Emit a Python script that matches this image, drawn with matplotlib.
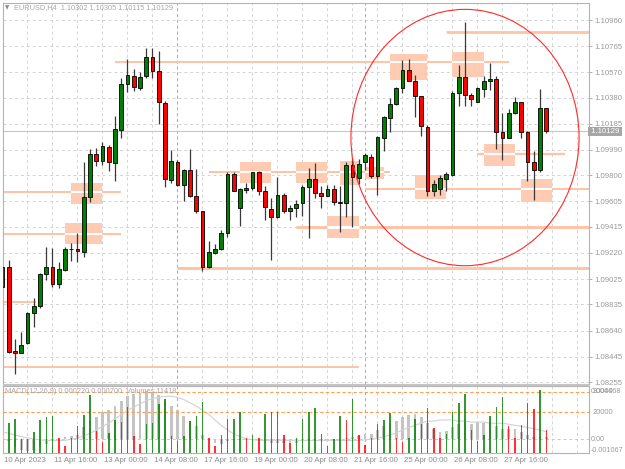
import matplotlib
matplotlib.use("Agg")
import matplotlib.pyplot as plt
import matplotlib.transforms as mtransforms
from matplotlib.patches import Ellipse, Rectangle
import numpy as np

W, H = 625, 469
FONT = ["Liberation Sans", "DejaVu Sans"]
plt.rcParams["font.family"] = FONT

# ---------------- data (H4 bars, index 2 = 10 Apr 2023 08:00) ----------------
first_bar = 2
opens = [1.08966, 1.09115, 1.08487, 1.08476, 1.08547, 1.08771, 1.08824, 1.09063, 1.09115, 1.08988,
         1.09089, 1.09246, 1.09249, 1.09227, 1.09638, 1.09959, 1.09907, 1.10011, 1.09892, 1.10138,
         1.10482, 1.10542, 1.10452, 1.10542, 1.10684, 1.10579, 1.10340, 1.09765, 1.09899, 1.09724,
         1.09843, 1.09645, 1.09533, 1.09115, 1.09220, 1.09249, 1.09369, 1.09806, 1.09556, 1.09690,
         1.09705, 1.09825, 1.09683, 1.09548, 1.09492, 1.09653, 1.09530, 1.09559, 1.09593, 1.09713,
         1.09772, 1.09664, 1.09649, 1.09701, 1.09604, 1.09593, 1.09877, 1.09780, 1.09899, 1.09937,
         1.09795, 1.10082, 1.10228, 1.10333, 1.10452, 1.10583, 1.10508, 1.10389, 1.10164, 1.09679,
         1.09698, 1.09772, 1.09802, 1.10415, 1.10534, 1.10400, 1.10351, 1.10445, 1.10501, 1.10519,
         1.10120, 1.10082, 1.10265, 1.10344, 1.10127, 1.09903, 1.09836, 1.10302]
highs = [1.09167, 1.09167, 1.08577, 1.08629, 1.08779, 1.08883, 1.09070, 1.09264, 1.09257, 1.09152,
         1.09264, 1.09294, 1.09369, 1.09899, 1.09996, 1.10004, 1.10049, 1.10026, 1.10243, 1.10527,
         1.10669, 1.10594, 1.10572, 1.10751, 1.10751, 1.10728, 1.10355, 1.09989, 1.09914, 1.09847,
         1.09996, 1.09847, 1.09533, 1.09309, 1.09287, 1.09391, 1.09825, 1.09825, 1.09705, 1.09742,
         1.09828, 1.09832, 1.09720, 1.09630, 1.09787, 1.09668, 1.09578, 1.09615, 1.09727, 1.09854,
         1.09892, 1.09720, 1.09727, 1.09727, 1.09720, 1.09899, 1.09929, 1.09922, 1.09967, 1.09959,
         1.10090, 1.10243, 1.10377, 1.10460, 1.10661, 1.10669, 1.10549, 1.10392, 1.10176, 1.09765,
         1.09802, 1.09821, 1.10433, 1.10624, 1.10945, 1.10415, 1.10463, 1.10545, 1.10639, 1.10542,
         1.10265, 1.10295, 1.10385, 1.10347, 1.10131, 1.09978, 1.10445, 1.10305]
lows = [1.08906, 1.08473, 1.08316, 1.08473, 1.08540, 1.08667, 1.08809, 1.09018, 1.08966, 1.08958,
        1.09085, 1.09160, 1.09152, 1.09190, 1.09600, 1.09869, 1.09877, 1.09832, 1.09757, 1.10079,
        1.10422, 1.10430, 1.10437, 1.10527, 1.10527, 1.10183, 1.09713, 1.09742, 1.09720, 1.09608,
        1.09638, 1.09518, 1.09085, 1.09107, 1.09212, 1.09242, 1.09339, 1.09680, 1.09421, 1.09668,
        1.09690, 1.09653, 1.09466, 1.09167, 1.09481, 1.09518, 1.09466, 1.09488, 1.09496, 1.09332,
        1.09630, 1.09556, 1.09645, 1.09578, 1.09373, 1.09488, 1.09414, 1.09735, 1.09840, 1.09780,
        1.09653, 1.09985, 1.10127, 1.10325, 1.10418, 1.10501, 1.10239, 1.10090, 1.09645, 1.09642,
        1.09653, 1.09679, 1.09795, 1.10314, 1.10314, 1.10314, 1.10347, 1.10385, 1.10437, 1.09996,
        1.09914, 1.10079, 1.10258, 1.10079, 1.09761, 1.09615, 1.09825, 1.10115]
closes = [1.09115, 1.08480, 1.08473, 1.08532, 1.08771, 1.08824, 1.09063, 1.09115, 1.08988, 1.09100,
          1.09249, 1.09253, 1.09234, 1.09638, 1.09959, 1.09907, 1.10019, 1.09899, 1.10146, 1.10482,
          1.10549, 1.10460, 1.10534, 1.10684, 1.10579, 1.10348, 1.09772, 1.09907, 1.09727, 1.09843,
          1.09642, 1.09530, 1.09115, 1.09227, 1.09249, 1.09369, 1.09810, 1.09683, 1.09698, 1.09705,
          1.09825, 1.09683, 1.09563, 1.09492, 1.09653, 1.09533, 1.09559, 1.09589, 1.09709, 1.09772,
          1.09668, 1.09649, 1.09694, 1.09604, 1.09593, 1.09877, 1.09787, 1.09884, 1.09952, 1.09798,
          1.10086, 1.10232, 1.10333, 1.10452, 1.10587, 1.10508, 1.10392, 1.10168, 1.09679, 1.09735,
          1.09780, 1.09806, 1.10415, 1.10534, 1.10400, 1.10370, 1.10452, 1.10504, 1.10523, 1.10120,
          1.10082, 1.10269, 1.10344, 1.10127, 1.09903, 1.09840, 1.10300, 1.10129]

volumes = [8500, 14800, 16600, 6900, 6700, 10100, 16300, 17600, 17900, 7400,
           3600, 7400, 13300, 18700, 28400, 10900, 5400, 9800, 16300, 15000,
           22400, 8500, 4600, 14300, 14500, 24000, 26500, 8500, 5700, 8500,
           15500, 17900, 24800, 7400, 3300, 9000, 16600, 16800, 20000, 7400,
           9000, 7400, 19200, 20000, 20300, 9000, 4900, 7400, 16600, 20000,
           22200, 9500, 3600, 6900, 17900, 16300, 26300, 9000, 4100, 7400,
           14300, 16300, 19500, 7400, 5300, 7400, 16600, 14300, 21900, 12200,
           7400, 9500, 20300, 24700, 28900, 11400, 5700, 9000, 17900, 22400,
           27300, 13000, 7400, 13800, 24400, 21400, 30800, 11418]

macd_main = [0.0004, -0.0002, -0.0007, -0.0010, -0.00107, -0.0010, -0.0007, -0.0004, -0.0002, 0.0000,
             0.0002, 0.0003, 0.0004, 0.0011, 0.0017, 0.0021, 0.0025, 0.0027, 0.0031, 0.0036,
             0.0040, 0.0042, 0.0043, 0.00447, 0.0044, 0.0041, 0.0036, 0.0031, 0.0027, 0.0022,
             0.0017, 0.0012, 0.0004, -0.0001, -0.0003, -0.0004, -0.0002, -0.0001, -0.0001, -0.0001,
             0.0000, -0.0001, -0.0002, -0.0003, -0.0003, -0.0003, -0.0003, -0.0003, -0.0002, -0.0001,
             -0.0001, -0.0002, -0.0002, -0.0002, -0.0002, 0.0001, 0.00025, 0.0003, 0.0005, 0.0005,
             0.0009, 0.0012, 0.0015, 0.0017, 0.0021, 0.0023, 0.0024, 0.0021, 0.0015, 0.0010,
             0.0007, 0.0008, 0.0011, 0.0014, 0.0016, 0.0014, 0.0016, 0.0015, 0.0016, 0.0012,
             0.0010, 0.0010, 0.0010, 0.0007, 0.0004, 0.0002, 0.00025, 0.00022]
macd_signal = [0.0007, 0.00056, 0.0004, 0.00025, 0.00012, 0.00003, -0.00006, -0.0001, -0.00012, -0.00012,
               -0.0001, 0.0, 0.00012, 0.0003, 0.00056, 0.00087, 0.0012, 0.0015, 0.0019, 0.0023,
               0.0027, 0.0030, 0.0033, 0.0036, 0.0038, 0.0039, 0.0040, 0.0040, 0.0039, 0.0037,
               0.0034, 0.0031, 0.0027, 0.0023, 0.0018, 0.0013, 0.00087, 0.0005, 0.00025, 0.00006,
               -0.00003, -0.0001, -0.0001, -0.0001, -0.0001, -0.0001, -0.0001, -0.0001, -0.00012, -0.00012,
               -0.00012, -0.00012, -0.00012, -0.00012, -0.00012, -0.00012, -0.00012, -0.0001, -0.00006, 0.0,
               0.0001, 0.00025, 0.0004, 0.0006, 0.00087, 0.0011, 0.0013, 0.0015, 0.0017, 0.0017,
               0.0018, 0.0018, 0.0018, 0.0017, 0.0017, 0.0016, 0.0016, 0.0016, 0.0015, 0.0015,
               0.0015, 0.0014, 0.0013, 0.0012, 0.0011, 0.0010, 0.00085, 0.0007]

price_ticks = [1.10960, 1.10765, 1.10570, 1.10380, 1.10185, 1.09990, 1.09800, 1.09605,
               1.09415, 1.09220, 1.09025, 1.08835, 1.08640, 1.08445, 1.08255]
date_tick_bars = [2, 10, 18, 26, 34, 42, 50, 58, 66, 74, 82]
date_labels = ["10 Apr 2023", "11 Apr 16:00", "13 Apr 00:00", "14 Apr 08:00", "17 Apr 16:00",
               "19 Apr 00:00", "20 Apr 08:00", "21 Apr 16:00", "25 Apr 00:00", "26 Apr 08:00",
               "27 Apr 16:00"]
week_start_bars = [30, 60]

# supply / demand zones
zone_from = [13, 12, 40, 49, 56, 60, 54, 64, 74, 68, 79, 85]
zone_to = [18, 18, 45, 54, 59, 63, 59, 70, 79, 73, 84, 90]
zone_low = [1.09583, 1.09287, 1.09740, 1.09740, 1.09727, 1.09770, 1.09329, 1.10510, 1.10536,
            1.09621, 1.09869, 1.09597]
zone_high = [1.09740, 1.09446, 1.09897, 1.09897, 1.09907, 1.09864, 1.09496, 1.10704, 1.10723,
             1.09802, 1.10032, 1.09772]

# horizontal levels (None = ray to the right)
level_from = [20, 73, 0, 0, 0, 0, 30, 35, 49, 60, 78]
level_to = [83, None, 21, 21, 7.3, 59, None, 64, None, None, 92]
level_price = [1.10643, 1.10873, 1.09673, 1.09359, 1.08856, 1.08366, 1.09107, 1.09827,
               1.09412, 1.09698, 1.09959]
level_px = [2.0, 2.8, 2.0, 2.0, 2.0, 2.0, 3.0, 2.0, 3.0, 2.0, 2.2]   # line widths (px)

ellipse_center_bar = 76.0
ellipse_center_price = 1.10082
ellipse_width_bars = 36.5
ellipse_height_price = 0.01915

header_text = "EURUSD,H4  1.10302 1.10305 1.10115 1.10129"
sub_header_text = "MACD(12,26,9) 0.000220 0.000700  Volumes 11418"
last_price_label = "1.10129"
sub_labels_vol = [30000, 20000]
sub_labels_macd = [0.004468, 0.0, -0.001067]
sub_label_macd_text = ["0.004468", "0.00", "-0.001067"]

# ---------------- style ----------------
ZONE_C = "#FFCBB2"
LEVEL_C = "#FFC3A6"
GRID_C = "#D4D4D4"
TXT_C = "#9A9A9A"
UP_C = "#008000"
DN_C = "#FF0000"
PX = 72.0 / 100.0     # points per pixel at dpi 100

bars = np.arange(first_bar, first_bar + len(opens))
for arr in (highs, lows, closes, volumes, macd_main, macd_signal):
    assert len(arr) == len(opens)

XMIN, XMAX = (3 + 10) / 6.25, (589 + 10) / 6.25
YMIN, YMAX = 1.08241, 1.11087

fig = plt.figure(figsize=(W / 100, H / 100), dpi=100)
fig.patch.set_facecolor("white")


def frac(x0, y0, x1, y1):
    return [x0 / W, 1 - y1 / H, (x1 - x0) / W, (y1 - y0) / H]


ax = fig.add_axes(frac(3, 3, 589, 384))
axs = fig.add_axes(frac(3, 386, 589, 453))

for a in (ax, axs):
    a.set_xlim(XMIN, XMAX)
    a.set_facecolor("white")
    for s in a.spines.values():
        s.set_color("#B4B4B4")
        s.set_linewidth(0.8)
    a.set_xticks([])

ax.set_ylim(YMIN, YMAX)

# grid
grid_bars = np.arange(2, 96, 4)
for b in grid_bars:
    for a in (ax, axs):
        a.axvline(b, color=GRID_C, lw=0.7, ls=(0, (3, 3)), zorder=0)
for p in price_ticks:
    ax.axhline(p, color=GRID_C, lw=0.7, ls=(0, (3, 3)), zorder=0)
for b in week_start_bars:
    for a in (ax, axs):
        a.axvline(b, color="#A8A8A8", lw=0.7, ls=(0, (3, 3)), zorder=0.5)

# zones
for x0, x1, lo, hi in zip(zone_from, zone_to, zone_low, zone_high):
    ax.add_patch(Rectangle((x0, lo), x1 - x0, hi - lo, facecolor=ZONE_C, edgecolor="none", zorder=1))

# levels (with XOR-like white where they cross a zone)
for x0, x1, p, w in zip(level_from, level_to, level_price, level_px):
    xe = XMAX + 5 if x1 is None else x1
    ax.plot([x0, xe], [p, p], color=LEVEL_C, lw=w * PX, solid_capstyle="butt", zorder=1.2)
    for zx0, zx1, lo, hi in zip(zone_from, zone_to, zone_low, zone_high):
        if lo <= p <= hi:
            a0, a1 = max(x0, zx0), min(xe, zx1)
            if a1 > a0:
                ax.plot([a0, a1], [p, p], color="white", lw=w * PX, solid_capstyle="butt", zorder=1.3)

# bid line
ax.axhline(closes[-1], color="#C8C8C8", lw=0.8, zorder=1.1)

# candles
for b, o, h, l, c in zip(bars, opens, highs, lows, closes):
    ax.plot([b, b], [l, h], color="#3A3A3A", lw=0.9, zorder=2, solid_capstyle="butt")
    col = UP_C if c >= o else DN_C
    lo_, hi_ = min(o, c), max(o, c)
    hgt = max(hi_ - lo_, 0.00002)
    ax.add_patch(Rectangle((b - 0.31, lo_), 0.62, hgt, facecolor=col, edgecolor="black",
                           lw=0.6, zorder=3))

# ellipse
ax.add_patch(Ellipse((ellipse_center_bar, ellipse_center_price), ellipse_width_bars,
                     ellipse_height_price, fill=False, edgecolor="#FF2A2A", lw=0.8, zorder=4))

# right price axis
ax.yaxis.tick_right()
ax.set_yticks(price_ticks)
ax.set_yticklabels([f"{p:.5f}" for p in price_ticks])
ax.tick_params(axis="y", length=2, width=0.6, color="#A0A0A0", pad=1.5, labelsize=5.6,
               labelcolor=TXT_C)

# last price box
ax.text(1.0, closes[-1], " " + last_price_label + " ",
        transform=mtransforms.blended_transform_factory(ax.transAxes, ax.transData),
        ha="left", va="center", fontsize=5.6, color="white", zorder=6, clip_on=False,
        bbox=dict(facecolor="#A6A6A6", edgecolor="none", pad=0.6))

# header
fig.text(5 / W, 1 - 7.5 / H, "\u25BC", fontsize=4, color="#8A8A8A", va="center", ha="left",
         family=["DejaVu Sans"])
fig.text(14 / W, 1 - 8 / H, header_text, fontsize=5.3, color="#A8A8A8", va="center", ha="left")

# ---------------- sub window: MACD + Volumes ----------------
VOL_MAX = 32800
axs.set_ylim(0, VOL_MAX)
axm = axs.twinx()
axm.set_xlim(XMIN, XMAX)
axm.set_ylim(-0.001275, 0.00496)
for s in axm.spines.values():
    s.set_visible(False)

axm.bar(bars, macd_main, width=0.45, color="#C4C4C4", zorder=1)
axm.plot(bars, macd_signal, color="#D2D2D2", lw=0.8, zorder=2)
axm.axhline(0, color="#C8C8C8", lw=0.7, ls=(0, (3, 3)), zorder=0.5)

vol_colors = []
prev = None
for v in volumes:
    vol_colors.append(UP_C if (prev is None or v >= prev) else DN_C)
    prev = v
axv = axm.twinx()
axv.set_xlim(XMIN, XMAX)
axv.set_ylim(0, VOL_MAX)
for s in axv.spines.values():
    s.set_visible(False)
axv.bar(bars, volumes, width=0.24, color=vol_colors, alpha=0.8, zorder=3)
for lvl in sub_labels_vol:
    axv.axhline(lvl, color="#FFA050", lw=0.8, ls=(0, (3, 2)), zorder=2.5)

axs.set_yticks([])
axv.set_yticks([])
axm.set_yticks([])

tr_v = mtransforms.blended_transform_factory(axs.transAxes, axv.transData)
tr_m = mtransforms.blended_transform_factory(axs.transAxes, axm.transData)
xoff = mtransforms.ScaledTranslation(4 / 100, 0, fig.dpi_scale_trans)
xoff_m = mtransforms.ScaledTranslation(1.5 / 100, 0, fig.dpi_scale_trans)
for lvl in sub_labels_vol:
    axs.text(1.0, lvl, f"{lvl}", transform=tr_v + xoff, ha="left", va="center", fontsize=5.4,
             color=TXT_C, clip_on=False)
for val, txt in zip(sub_labels_macd, sub_label_macd_text):
    axs.text(1.0, val, txt, transform=tr_m + xoff_m, ha="left", va="center", fontsize=5.2,
             color=TXT_C, clip_on=False)

fig.text(5 / W, 1 - 391 / H, sub_header_text, fontsize=5.3, color="#A8A8A8", va="center", ha="left")

# separator between windows
fig.add_artist(Rectangle((3 / W, 1 - 386 / H), 586 / W, 2.2 / H, transform=fig.transFigure,
                         facecolor="#C4C4C4", edgecolor="none"))

# date labels
tr_d = mtransforms.blended_transform_factory(axs.transData, fig.transFigure)
for b, lab in zip(date_tick_bars, date_labels):
    axs.text(b + 0.3, 1 - 460.5 / H, lab, transform=tr_d, ha="left", va="center", fontsize=5.6,
             color="#8C8C8C", clip_on=False)

fig.savefig("out.png", dpi=100, facecolor="white")
